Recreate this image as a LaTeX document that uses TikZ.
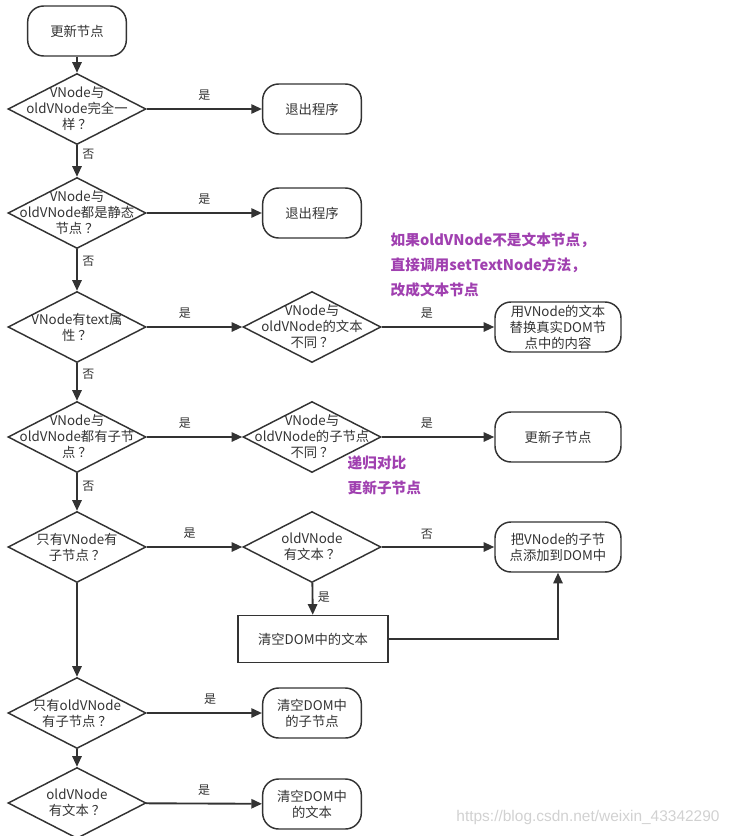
\documentclass[tikz,border=0pt]{standalone}
\usepackage{fontspec}
\setmainfont{Noto Sans CJK SC}
\newfontfamily\wmfont{Liberation Sans}
\usetikzlibrary{shapes.geometric,arrows.meta}
\definecolor{ink}{HTML}{333333}
\definecolor{note}{HTML}{A040B0}
\tikzset{
  txt/.style={font=\fontsize{10}{12}\selectfont, text=ink, align=center},
  base/.style={txt, draw=ink, line width=1.1pt, inner sep=1pt},
  term/.style={base, rounded corners=12pt, minimum width=74pt, minimum height=37.5pt},
  wide/.style={term, minimum width=94.5pt},
  proc/.style={base, minimum width=112.5pt, minimum height=35.25pt},
  decision/.style={base, diamond, inner sep=0pt, minimum width=103.5pt, minimum height=53.25pt,
    label={[txt]center:#1}},
  flow/.style={draw=ink, line width=1.4pt, -{Triangle[length=8pt,width=7pt]}},
  lbl/.style={font=\fontsize{9}{11}\selectfont, text=ink},
  notes/.style={font=\fontsize{11}{18.75}\selectfont\bfseries, text=note, align=left, anchor=west}
}
\begin{document}
\begin{tikzpicture}[x=0.75pt, y=-0.75pt]
  \useasboundingbox (0,0) rectangle (733,836);
  \node[term] (start) at (77,31) {更新节点};
  \node[decision={VNode与\\oldVNode完全一\\样 ？}] (same) at (77,109) {};
  \node[term] (quit1) at (312,109) {退出程序};
  \node[decision={VNode与\\oldVNode都是静态\\节点 ？}] (static) at (77,213) {};
  \node[term] (quit2) at (312,213) {退出程序};
  \node[decision={VNode有text属\\性 ？}] (hastext) at (77,327) {};
  \node[decision={VNode与\\oldVNode的文本\\不同 ？}] (difftext) at (312,327) {};
  \node[wide] (settext) at (558,327) {用VNode的文本\\替换真实DOM节\\点中的内容};
  \node[decision={VNode与\\oldVNode都有子节\\点 ？}] (bothch) at (77,437) {};
  \node[decision={VNode与\\oldVNode的子节点\\不同 ？}] (diffch) at (312,437) {};
  \node[wide] (updch) at (558,437) {更新子节点};
  \node[decision={只有VNode有\\子节点 ？}] (newch) at (77,547) {};
  \node[decision={oldVNode\\有文本 ？}] (oldtext1) at (312,547) {};
  \node[wide] (addch) at (558,547) {把VNode的子节\\点添加到DOM中};
  \node[proc] (cleartext1) at (313,639) {清空DOM中的文本};
  \node[decision={只有oldVNode\\有子节点 ？}] (oldch) at (77,713) {};
  \node[term] (clearch) at (312,713) {清空DOM中\\的子节点};
  \node[decision={oldVNode\\有文本 ？}] (oldtext2) at (77,803) {};
  \node[term] (cleartext2) at (312,804) {清空DOM中\\的文本};

  \node[notes] (note1) at (386,265) {如果oldVNode不是文本节点，\\直接调用setTextNode方法，\\改成文本节点};
  \node[notes] (note2) at (343,475) {递归对比\\更新子节点};
  \node[font=\wmfont\fontsize{11.6}{13}\selectfont, text=black!18] (mark) at (588,817) {https://blog.csdn.net/weixin\_43342290};

  \draw[flow] (start) -- (same);
  \draw[flow] (same) -- node[lbl, above=2pt] {是} (quit1);
  \draw[flow] (same) -- node[lbl, right, pos=0.3] {否} (static);
  \draw[flow] (static) -- node[lbl, above=2pt] {是} (quit2);
  \draw[flow] (static) -- node[lbl, right, pos=0.3] {否} (hastext);
  \draw[flow] (hastext) -- node[lbl, above=2pt, pos=0.4] {是} (difftext);
  \draw[flow] (difftext) -- node[lbl, above=2pt, pos=0.4] {是} (settext);
  \draw[flow] (hastext) -- node[lbl, right, pos=0.3] {否} (bothch);
  \draw[flow] (bothch) -- node[lbl, above=2pt, pos=0.4] {是} (diffch);
  \draw[flow] (diffch) -- node[lbl, above=2pt, pos=0.4] {是} (updch);
  \draw[flow] (bothch) -- node[lbl, right, pos=0.35] {否} (newch);
  \draw[flow] (newch) -- node[lbl, above=2pt, pos=0.45] {是} (oldtext1);
  \draw[flow] (oldtext1) -- node[lbl, above=2pt, pos=0.4] {否} (addch);
  \draw[flow] (oldtext1) -- node[lbl, right, pos=0.45] {是} (cleartext1);
  \draw[flow] (cleartext1) -| (addch);
  \draw[flow] (newch) -- (oldch);
  \draw[flow] (oldch) -- node[lbl, above=2pt, pos=0.55] {是} (clearch);
  \draw[flow] (oldch) -- (oldtext2);
  \draw[flow] (oldtext2) -- node[lbl, above=2pt, pos=0.5] {是} (cleartext2);
\end{tikzpicture}
\end{document}
